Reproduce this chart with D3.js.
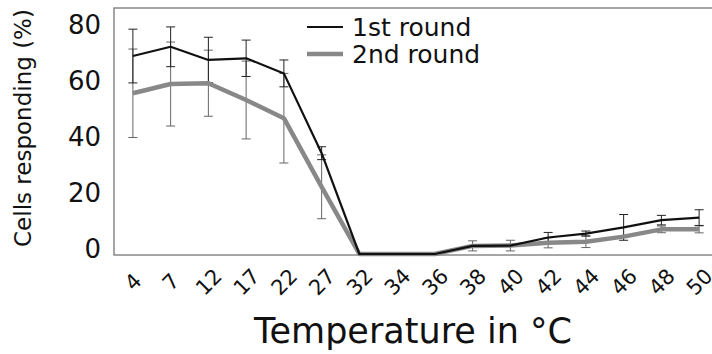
<!DOCTYPE html>
<html>
<head>
<meta charset="utf-8">
<script src="https://cdn.jsdelivr.net/npm/d3@7"></script>
<style>
  body { margin: 0; background: #fff; }
  text { font-family: "DejaVu Sans", Verdana, sans-serif; fill: #111; }
</style>
</head>
<body>
<div id="chart"></div>
<script>
const temps = ['4', '7', '12', '17', '22', '27', '32', '34', '36', '38', '40', '42', '44', '46', '48', '50'];
const round1 = [70.7, 74.0, 69.3, 69.9, 64.5, 36.0, 0, 0, 0, 2.9, 3.0, 5.9, 7.3, 9.5, 12.1, 13.0];
const round1Err = [9.6, 7.1, 8.1, 6.5, 4.8, 2.3, 0, 0, 0, 0, 0, 1.8, 0.9, 4.6, 1.7, 2.8];
const round2 = [57.4, 60.7, 61.0, 55.0, 48.5, 24.0, 0, 0, 0, 2.9, 3.0, 4.0, 4.4, 6.2, 8.8, 8.8];
const round2Err = [15.8, 15.0, 11.8, 13.9, 16.0, 11.4, 0, 0, 0, 1.8, 1.9, 1.8, 2.1, 0, 1.2, 1.25];
const yTicks = [0, 20, 40, 60, 80];
const seriesNames = ['1st round', '2nd round'];

drawChart();

function drawChart() {
  const width = 712, height = 354;
  const left = 114, right = 718, top = 8, bottom = 255;

  const svg = d3.select('#chart')
    .append('svg')
    .attr('width', width)
    .attr('height', height);

  const x = d3.scalePoint()
    .domain(temps)
    .range([left, right])
    .padding(0.5);

  // 0 sits on the frame bottom, 80 a little under the top
  const y = d3.scaleLinear()
    .domain([0, 80])
    .range([254, 30]);

  // frame
  svg.append('rect')
    .attr('x', left)
    .attr('y', top)
    .attr('width', right - left)
    .attr('height', bottom - top)
    .attr('fill', 'none')
    .attr('stroke', '#888')
    .attr('stroke-width', 1.5);

  // Y axis labels
  const yAxis = svg.append('g')
    .attr('transform', `translate(${left - 13},-5)`)
    .call(d3.axisLeft(y).tickValues(yTicks).tickSize(0).tickPadding(0));
  yAxis.select('.domain').remove();
  yAxis.selectAll('text')
    .style('font-size', '26px')
    .style('font-family', '"DejaVu Sans", sans-serif')
    .attr('fill', '#111');

  // X axis labels, tilted
  const xAxis = svg.append('g')
    .attr('transform', `translate(0,${bottom})`)
    .call(d3.axisBottom(x).tickSize(0).tickPadding(0));
  xAxis.select('.domain').remove();
  xAxis.selectAll('text')
    .style('font-size', '21px')
    .style('font-family', '"DejaVu Sans", sans-serif')
    .attr('fill', '#111')
    .attr('dy', null)
    .attr('y', 0)
    .attr('text-anchor', 'middle')
    .attr('dominant-baseline', 'central')
    .attr('transform', 'translate(0,27) rotate(-45)');

  // axis titles
  svg.append('text')
    .attr('x', 413)
    .attr('y', 343)
    .attr('text-anchor', 'middle')
    .style('font-size', '35px')
    .text('Temperature in °C');

  svg.append('text')
    .attr('transform', 'translate(31,128) rotate(-90)')
    .attr('text-anchor', 'middle')
    .style('font-size', '23px')
    .text('Cells responding (%)');

  const series = [
    { name: seriesNames[0], values: round1, err: round1Err, color: '#111', width: 2.2, errColor: '#222' },
    { name: seriesNames[1], values: round2, err: round2Err, color: '#888', width: 4.5, errColor: '#666' }
  ];

  const line = d3.line()
    .x((d, i) => x(temps[i]))
    .y(d => y(d));

  // error bars first, lines over them
  series.slice().reverse().forEach(s => {
    const g = svg.append('g');
    const pts = s.values.map((v, i) => ({ t: temps[i], v, e: s.err[i] })).filter(d => d.e > 0);
    g.selectAll('line.v')
      .data(pts)
      .enter()
      .append('line')
      .attr('x1', d => x(d.t))
      .attr('x2', d => x(d.t))
      .attr('y1', d => y(d.v + d.e))
      .attr('y2', d => y(d.v - d.e))
      .attr('stroke', s.errColor)
      .attr('stroke-width', 1);
    ['top', 'bot'].forEach(k => {
      g.selectAll('line.' + k)
        .data(pts)
        .enter()
        .append('line')
        .attr('x1', d => x(d.t) - 4.5)
        .attr('x2', d => x(d.t) + 4.5)
        .attr('y1', d => y(k === 'top' ? d.v + d.e : d.v - d.e))
        .attr('y2', d => y(k === 'top' ? d.v + d.e : d.v - d.e))
        .attr('stroke', s.errColor)
        .attr('stroke-width', 1);
    });
  });

  series.slice().reverse().forEach(s => {
    svg.append('path')
      .datum(s.values)
      .attr('d', line)
      .attr('fill', 'none')
      .attr('stroke', s.color)
      .attr('stroke-width', s.width)
      .attr('stroke-linejoin', 'round');
  });

  // legend
  const legend = svg.append('g');
  series.forEach((s, i) => {
    const ly = 27 + i * 27;
    legend.append('line')
      .attr('x1', 307)
      .attr('x2', 343)
      .attr('y1', ly)
      .attr('y2', ly)
      .attr('stroke', s.color)
      .attr('stroke-width', s.width);
    legend.append('text')
      .attr('x', 352)
      .attr('y', ly)
      .attr('dominant-baseline', 'central')
      .style('font-size', '25px')
      .text(s.name);
  });
}
</script>
</body>
</html>
